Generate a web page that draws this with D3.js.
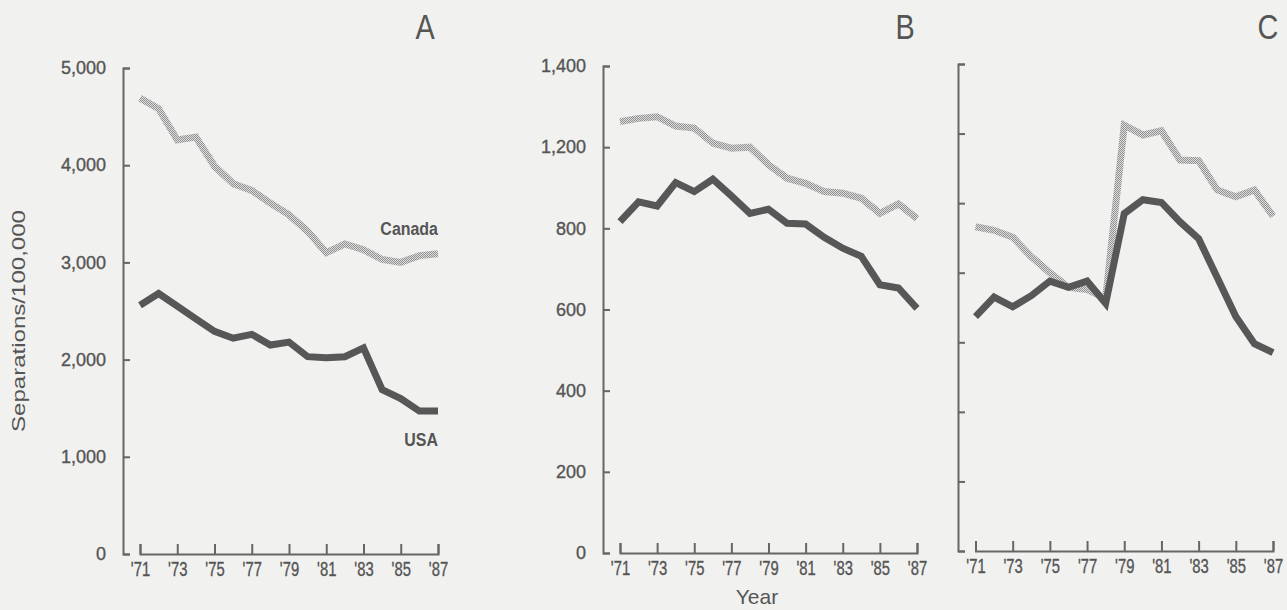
<!DOCTYPE html>
<html><head><meta charset="utf-8">
<script src="https://cdn.jsdelivr.net/npm/d3@7"></script>
<style>
html,body{margin:0;padding:0;background:#f1f1ef;}
svg{display:block;}
text{font-family:"Liberation Sans",Arial,sans-serif;fill:#555;}
</style></head><body>
<svg id="chart" width="1287" height="610"></svg>
<script>
// ---------- data ----------
const years = [1971,1972,1973,1974,1975,1976,1977,1978,1979,1980,1981,1982,1983,1984,1985,1986,1987];
const tickYears = [1971,1973,1975,1977,1979,1981,1983,1985,1987];
const panelTitles = ["A","B","C"];
const seriesNames = ["Canada","USA"];

const canadaA = [4690,4580,4260,4290,3990,3810,3740,3610,3490,3320,3100,3190,3130,3030,3000,3070,3090];
const usaA    = [2560,2680,2550,2420,2290,2220,2260,2150,2180,2030,2020,2030,2120,1690,1600,1470,1470];

const canadaB = [1263,1271,1275,1252,1247,1210,1195,1200,1113,1047,1022,981,973,948,874,920,849];
const usaB    = [833,931,910,1025,981,1042,960,874,894,825,821,778,751,731,661,653,603];

const canadaC = [466,461,451,423,400,379,376,363,612,598,604,562,561,519,509,519,481];
const usaC    = [337,365,351,367,388,379,388,356,485,505,501,473,449,393,337,298,285];

const yTicksA = [0,1000,2000,3000,4000,5000];
const yTicksB = [0,200,400,600,800,1200,1400];
const yTicksC = [0,100,200,300,400,500,600,700];

// ---------- drawing ----------
const svg = d3.select("#chart");
const defs = svg.append("defs");
const pat = defs.append("pattern").attr("id","hatch")
  .attr("patternUnits","userSpaceOnUse").attr("width",2).attr("height",2);
pat.append("rect").attr("width",2).attr("height",2).attr("fill","#dedede");
pat.append("rect").attr("width",1).attr("height",1).attr("fill","#909090");
pat.append("rect").attr("x",1).attr("y",1).attr("width",1).attr("height",1).attr("fill","#909090");

// condense text horizontally around its anchor x (narrow typeface look)
function condense(sel, f){
  sel.each(function(){
    const X = +(this.getAttribute("x") || 0);
    d3.select(this).attr("transform", `translate(${X*(1-f)},0) scale(${f},1)`);
  });
}
function uniformRange(bottom, top, n){
  return d3.range(n+1).map(i => bottom + (top-bottom)*i/n);
}

const panels = [
  {title:panelTitles[0], titleX:425, axisX:123, x0:140, x1:438, bottom:554,
   yScale: d3.scaleLinear().domain([0,5000]).range([554,68]),
   ticks:yTicksA, fmt:d3.format(","), canada:canadaA, usa:usaA, labels:true},
  {title:panelTitles[1], titleX:905, axisX:603, x0:620, x1:917, bottom:553,
   yScale: (()=>{const r=uniformRange(553,66,6); return d3.scaleLinear().domain([0,800,1200,1400]).range([r[0],r[4],r[5],r[6]]);})(),
   ticks:yTicksB, fmt:d3.format(","), canada:canadaB, usa:usaB, labels:false},
  {title:panelTitles[2], titleX:1268, axisX:958, x0:975.5, x1:1273, bottom:551,
   yScale: d3.scaleLinear().domain([0,700]).range([551,64]),
   ticks:yTicksC, fmt:()=>"", canada:canadaC, usa:usaC, labels:false}
];

panels.forEach(p => {
  const x = d3.scaleLinear().domain([1971,1987]).range([p.x0,p.x1]);
  const y = p.yScale;

  // y axis
  const ya = svg.append("g").attr("transform",`translate(${p.axisX},0)`)
    .call(d3.axisLeft(y).tickValues(p.ticks).tickFormat(p.fmt)
      .tickSizeInner(-7).tickSizeOuter(-7).tickPadding(17));
  ya.attr("font-family",null).attr("font-size",null);
  ya.select(".domain").attr("stroke","#666").attr("stroke-width",2);
  ya.selectAll(".tick line").attr("stroke","#666").attr("stroke-width",2);
  ya.selectAll(".tick text").attr("font-size",18).attr("fill","#555")
    .attr("stroke","#555").attr("stroke-width",0.35);

  // x axis
  const xa = svg.append("g").attr("transform",`translate(0,${p.bottom})`)
    .call(d3.axisBottom(x).tickValues(tickYears).tickFormat(d => "'" + String(d).slice(2))
      .tickSizeInner(-10).tickSizeOuter(-10).tickPadding(8));
  xa.attr("font-family",null).attr("font-size",null);
  xa.select(".domain").attr("stroke","#666").attr("stroke-width",2);
  xa.selectAll(".tick line").attr("stroke","#666").attr("stroke-width",2);
  xa.selectAll(".tick text").attr("font-size",19.5).attr("fill","#555")
    .attr("stroke","#555").attr("stroke-width",0.35).call(condense, 0.76);

  // lines
  const line = d3.line().x((d,i)=>x(years[i])).y(d=>y(d)).curve(d3.curveLinear);
  svg.append("path").datum(p.canada).attr("d",line)
    .attr("fill","none").attr("stroke","url(#hatch)").attr("stroke-width",7)
    .attr("stroke-linejoin","miter");
  svg.append("path").datum(p.usa).attr("d",line)
    .attr("fill","none").attr("stroke","#575757").attr("stroke-width",7)
    .attr("stroke-linejoin","miter");

  // panel title
  svg.append("text").attr("x",p.titleX).attr("y",39)
    .attr("text-anchor","middle").attr("font-size",36).attr("fill","#555")
    .text(p.title).call(condense, 0.8);

  if (p.labels){
    svg.append("text").attr("x",x(1987)).attr("y",y(3280))
      .attr("text-anchor","end").attr("font-size",19).attr("font-weight","bold").attr("fill","#555")
      .text(seriesNames[0]).call(condense, 0.84);
    svg.append("text").attr("x",x(1987)).attr("y",y(1110))
      .attr("text-anchor","end").attr("font-size",19).attr("font-weight","bold").attr("fill","#555")
      .text(seriesNames[1]).call(condense, 0.84);
  }
});

// axis titles
svg.append("text").attr("transform","translate(25,321) rotate(-90)")
  .attr("text-anchor","middle").attr("font-size",18).attr("fill","#666")
  .attr("textLength",222).attr("lengthAdjust","spacingAndGlyphs")
  .text("Separations/100,000");
svg.append("text").attr("x",757).attr("y",604).attr("text-anchor","middle")
  .attr("font-size",21).attr("fill","#555").text("Year");
</script>
</body></html>
